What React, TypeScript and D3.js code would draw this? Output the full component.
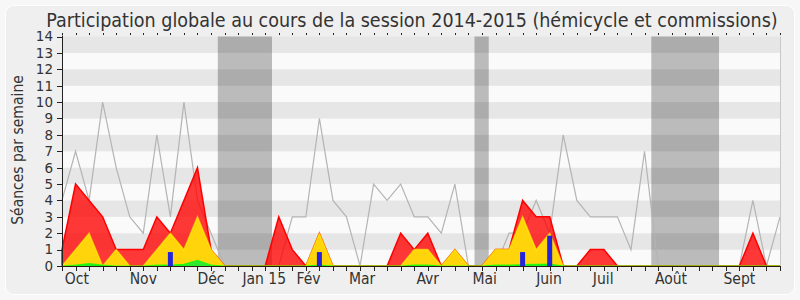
import React from "react";
import * as d3 from "d3";

const weeks: number[] = Array.from({ length: 54 }, (_, i) => i);

const grayTotal = [4,7,4,10,6,3,2,8,3,10,4,2,0,0,0,0,0,3,3,9,4,3,0,5,4,5,3,3,2,5,0,0,0,2,2,4,2,8,4,3,3,3,1,7,0,0,0,0,0,0,0,4,0,3];
const redSeries = [1,5,4,3,1,1,1,3,2,4,6,1,0,0,0,0,3,1,0,2,0,0,0,0,0,2,1,2,0,1,0,0,1,1,4,3,3,0,0,1,1,0,0,0,0,0,0,0,0,0,0,2,0,0];
const yellowSeries = [0,1,2,0,1,0,0,1,2,1,3,1,0,0,0,0,0,0,0,2,0,0,0,0,0,0,1,1,0,1,0,0,1,1,3,1,2,0,0,0,0,0,0,0,0,0,0,0,0,0,0,0,0,0];
const greenSeries = [0,0.05,0.15,0.05,0,0,0,0.05,0.05,0.1,0.35,0.05,0,0,0,0,0,0,0,0.05,0,0,0,0,0,0,0.05,0.05,0,0,0,0,0.05,0.05,0.08,0.1,0.12,0,0,0,0,0,0,0,0,0,0,0,0,0,0,0,0,0];
const blueWeeks = [8, 19, 34, 36];
const blueValues = [0.85, 0.85, 0.85, 1.85];

const monthLabels = ["Oct","Nov","Déc","Jan 15","Fév","Mar","Avr","Mai","Juin","Juil","Août","Sept"];
const monthPos = [1.1, 6.0, 11.0, 14.93, 18.2, 22.15, 27.0, 31.2, 35.95, 39.95, 44.95, 50.0];
const vacations: [number, number][] = [[11.5, 15.5], [30.45, 31.5], [43.5, 48.5]];
const yTicks = [0,1,2,3,4,5,6,7,8,9,10,11,12,13,14];

const title = "Participation globale au cours de la session 2014-2015 (hémicycle et commissions)";
const yTitle = "Séances par semaine";

const FONT = "'DejaVu Sans Condensed', 'DejaVu Sans', sans-serif";

export default function App() {
  const W = 800, H = 300;
  const x = d3.scaleLinear().domain([0, 53]).range([62, 780]);
  const y = d3.scaleLinear().domain([0, 14]).range([266, 36.5]);

  const area = (vals: number[]) =>
    d3.area<number>().x((_, i) => x(i)).y0(y(0)).y1((d) => y(d))(vals) || "";
  const line = d3.line<number>().x((_, i) => x(i)).y((d) => y(d));

  const [x0, x1] = x.range();

  return (
    <svg width={W} height={H} style={{ position: "absolute", left: 0, top: 0 }} fontFamily={FONT}>
      <rect x={0} y={0} width={W} height={H} fill="#f7f7f7" />
      <rect x={5.5} y={5.5} width={789} height={289} rx={8} fill="#efefef" stroke="#ffffff" />
      <text x={412} y={27} textAnchor="middle" fontSize={19.5} fill="#333">{title}</text>

      {/* stripes */}
      {yTicks.slice(0, -1).map((k) => (
        <rect key={"s" + k} x={x0} y={y(k + 1)} width={x1 - x0} height={y(k) - y(k + 1)}
          fill={k % 2 === 1 ? "#e6e6e6" : "#fafafa"} />
      ))}
      {/* vacations */}
      {vacations.map(([a, b], i) => (
        <rect key={"v" + i} x={x(a)} y={y(14)} width={x(b) - x(a)} height={y(0) - y(14)}
          fill="#000" fillOpacity={0.25} />
      ))}

      <path d={line(grayTotal) || ""} fill="none" stroke="#b4b4b4" strokeWidth={1.2} />
      <path d={area(redSeries)} fill="rgba(255,0,0,0.78)" stroke="#ff0000" strokeWidth={1.5} />
      <path d={area(yellowSeries)} fill="#ffd40a" stroke="rgba(255,255,0,0.55)" strokeWidth={1.5} />
      <path d={area(greenSeries)} fill="#33e633" stroke="rgba(0,255,0,0.7)" strokeWidth={1.2} />
      {blueWeeks.map((w, i) => (
        <rect key={"b" + i} x={x(w) - 2.5} y={y(blueValues[i])} width={5} height={y(0) - y(blueValues[i])}
          fill="#2424dc" />
      ))}

      {/* right border */}
      <line x1={x1 + 0.5} x2={x1 + 0.5} y1={y(14)} y2={y(0)} stroke="#c8c8c8" />
      {/* left axis */}
      <line x1={x0 + 0.5} x2={x0 + 0.5} y1={y(14) - 1} y2={y(0)} stroke="#222" />
      {yTicks.map((t) => (
        <g key={"yt" + t}>
          <line x1={x0 - 5} x2={x0} y1={Math.round(y(t)) + 0.5} y2={Math.round(y(t)) + 0.5} stroke="#222" />
          <text x={53} y={y(t)} dy="0.36em" textAnchor="end" fontSize={13.5} fontFamily="'DejaVu Sans', sans-serif" fill="#333">{t}</text>
        </g>
      ))}
      {/* bottom axis */}
      <line x1={x0} x2={x1 + 1} y1={266.5} y2={266.5} stroke="#2a1a10" />
      {weeks.map((w) => (
        <g key={"xt" + w}>
          <line x1={Math.round(x(w)) + 0.5} x2={Math.round(x(w)) + 0.5} y1={266} y2={271} stroke="#222" />
          <line x1={Math.round(x(w)) + 0.5} x2={Math.round(x(w)) + 0.5} y1={33} y2={35} stroke="#222" />
        </g>
      ))}
      {monthLabels.map((m, i) => (
        <text key={"m" + i} x={x(monthPos[i])} y={284} textAnchor="middle" fontSize={15.5} fill="#333">{m}</text>
      ))}
      <text transform={`translate(23,150) rotate(-90)`} textAnchor="middle" fontSize={15.5} fill="#333">{yTitle}</text>
    </svg>
  );
}
